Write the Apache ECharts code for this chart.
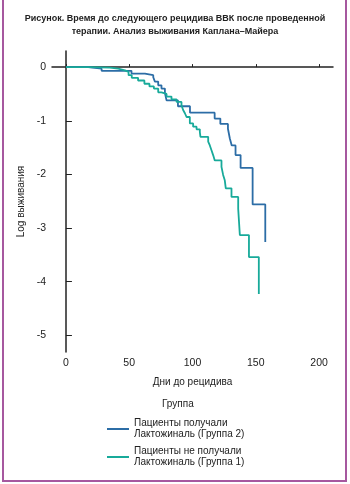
<!DOCTYPE html>
<html>
<head>
<meta charset="utf-8">
<script src="https://cdn.jsdelivr.net/npm/echarts@6/dist/echarts.min.js"></script>
<style>
  html, body { margin: 0; padding: 0; background: #fff; }
  #chart { width: 350px; height: 484px; }
</style>
</head>
<body>
<div id="chart"></div>
<script>
// Группа 2: пациенты получали Лактожиналь
const group2Days = [0, 17.6, 28.2, 51.8, 62.4, 69, 70.3, 72.9, 75.5, 78.2, 79.5, 88.5, 98, 117.5, 122, 128, 129.5, 131, 134, 138, 147.5, 157.5];
const group2Log  = [0, -0.03, -0.07, -0.12, -0.15, -0.19, -0.27, -0.34, -0.40, -0.48, -0.62, -0.73, -0.85, -0.96, -1.06, -1.15, -1.33, -1.46, -1.64, -1.88, -2.56, -3.26];

// Группа 1: пациенты не получали Лактожиналь
const group1Days = [0, 18, 34.7, 41.3, 46.6, 49.5, 52, 57, 62, 66, 69.5, 72.9, 75.5, 79.5, 83.4, 87.4, 91.3, 92.6, 94, 95.3, 97.9, 100.5, 103.2, 105.8, 106.3, 112.4, 113.7, 115, 116.3, 117.6, 122.9, 124.2, 125.5, 126.3, 130.8, 136.1, 137.4, 144.6, 152.4];
const group1Log  = [0, -0.01, -0.03, -0.06, -0.09, -0.15, -0.20, -0.25, -0.31, -0.36, -0.40, -0.47, -0.50, -0.55, -0.60, -0.65, -0.71, -0.80, -0.86, -0.93, -1.05, -1.11, -1.16, -1.21, -1.30, -1.39, -1.46, -1.55, -1.64, -1.74, -1.86, -2.01, -2.11, -2.26, -2.42, -2.64, -3.13, -3.54, -4.23];

const xTicks = [0, 50, 100, 150, 200];
const yTicks = [0, -1, -2, -3, -4, -5];

const seriesNames = ['Пациенты получали\nЛактожиналь (Группа 2)', 'Пациенты не получали\nЛактожиналь (Группа 1)'];
const seriesColors = ['#2c6da6', '#18aa9a'];

const zip = (xs, ys) => xs.map((x, i) => [x, ys[i]]);

const chart = echarts.init(document.getElementById('chart'));
const font = '"Liberation Sans", Arial, sans-serif';

chart.setOption({
  animation: false,
  textStyle: { fontFamily: font },
  title: [
    {
      text: 'Рисунок. Время до следующего рецидива ВВК после проведенной\nтерапии. Анализ выживания Каплана–Майера',
      left: 'center',
      top: 12,
      padding: 0,
      textStyle: { fontSize: 9, fontWeight: 'bold', color: '#222', lineHeight: 13, fontFamily: font }
    },
    {
      text: 'Группа',
      left: 162,
      top: 399,
      padding: 0,
      textStyle: { fontSize: 10, fontWeight: 'normal', color: '#222', fontFamily: font }
    }
  ],
  legend: {
    orient: 'vertical',
    left: 107,
    top: 418,
    padding: 0,
    icon: 'rect',
    itemWidth: 22,
    itemHeight: 2,
    itemGap: 6,
    data: seriesNames,
    textStyle: { fontSize: 10, color: '#222', lineHeight: 11, fontFamily: font }
  },
  grid: { left: 52, right: 17, top: 51, bottom: 132 },
  xAxis: {
    type: 'value',
    min: -11,
    max: 211,
    name: 'Дни до рецидива',
    nameLocation: 'middle',
    nameGap: 25,
    nameTextStyle: { fontSize: 10, color: '#222' },
    axisLine: { lineStyle: { color: '#222', width: 1.5 } },
    axisTick: { show: true, inside: true, length: 3, customValues: xTicks, lineStyle: { color: '#222' } },
    axisLabel: { customValues: xTicks, fontSize: 10.5, color: '#222', margin: 6 },
    splitLine: { show: false }
  },
  yAxis: {
    type: 'value',
    min: -5.31,
    max: 0.3,
    name: 'Log выживания',
    nameLocation: 'middle',
    nameGap: 26,
    nameTextStyle: { fontSize: 10, color: '#222' },
    axisLine: { show: true, lineStyle: { color: '#222', width: 1.5 } },
    axisTick: { show: true, inside: true, length: 6, customValues: yTicks, lineStyle: { color: '#222' } },
    axisLabel: { customValues: yTicks, fontSize: 10.5, color: '#222', margin: 6 },
    splitLine: { show: false }
  },
  series: [
    {
      name: seriesNames[0],
      type: 'line',
      step: 'end',
      showSymbol: false,
      data: zip(group2Days, group2Log),
      lineStyle: { color: seriesColors[0], width: 1.8 },
      itemStyle: { color: seriesColors[0] }
    },
    {
      name: seriesNames[1],
      type: 'line',
      step: 'end',
      showSymbol: false,
      data: zip(group1Days, group1Log),
      lineStyle: { color: seriesColors[1], width: 1.8 },
      itemStyle: { color: seriesColors[1] }
    }
  ],
  graphic: [
    {
      type: 'polyline',
      shape: { points: [[3, 0], [3, 481], [346, 481], [346, 0]] },
      style: { stroke: '#a6589f', lineWidth: 2, fill: null }
    }
  ]
});
</script>
</body>
</html>
